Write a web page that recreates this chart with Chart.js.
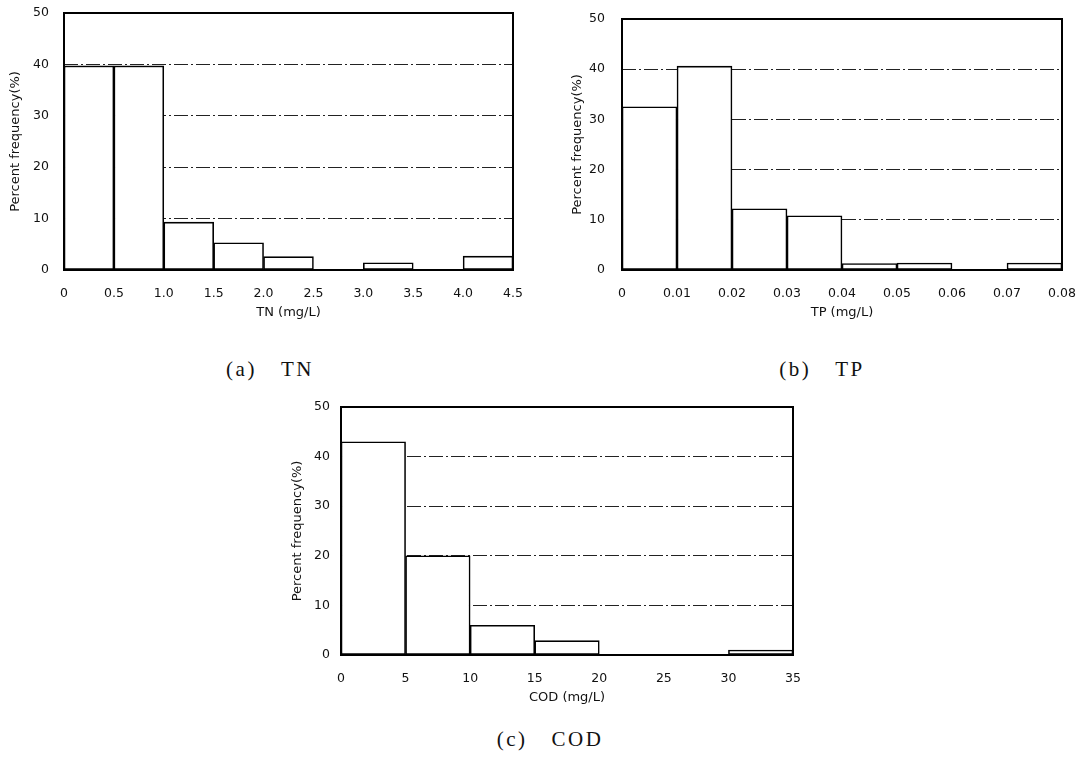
<!DOCTYPE html>
<html>
<head>
<meta charset="utf-8">
<script src="https://cdn.jsdelivr.net/npm/chart.js@4.4.1/dist/chart.umd.min.js"></script>
<style>
  html, body { margin: 0; padding: 0; background: #fff; }
  body { width: 1089px; height: 762px; position: relative; overflow: hidden; }
  .box { position: absolute; }
  .cap { position: absolute; font-family: "Liberation Serif", "Times New Roman", serif; font-size: 21px; line-height: 21px; color: #111; letter-spacing: 2.5px; white-space: nowrap; transform: translateX(-50%); }
  .cap .g { display: inline-block; width: 24px; }
</style>
</head>
<body>
<div class="box" style="left:0;top:0;width:530px;height:330px"><canvas id="cTN" width="530" height="330"></canvas></div>
<div class="box" style="left:545px;top:0;width:544px;height:330px"><canvas id="cTP" width="544" height="330"></canvas></div>
<div class="box" style="left:280px;top:395px;width:530px;height:320px"><canvas id="cCOD" width="530" height="320"></canvas></div>
<div class="cap" style="left:270px;top:359px">(a)<span class="g"></span>TN</div>
<div class="cap" style="left:822px;top:359px">(b)<span class="g"></span>TP</div>
<div class="cap" style="left:550px;top:729px">(c)<span class="g"></span>COD</div>
<script>
// ---- data (bin lower edges, bin width, percent frequency) ----
const tnBins   = [0, 0.5, 1.0, 1.5, 2.0, 2.5, 3.0, 3.5, 4.0];
const tnWidth  = 0.5;
const tnValues = [39.7, 39.7, 9.3, 5.3, 2.6, 0, 1.4, 0, 2.7];
const tnTicks  = [0, 0.5, 1.0, 1.5, 2.0, 2.5, 3.0, 3.5, 4.0, 4.5];

const tpBins   = [0, 0.01, 0.02, 0.03, 0.04, 0.05, 0.06, 0.07];
const tpWidth  = 0.01;
const tpValues = [32.5, 40.6, 12.2, 10.8, 1.3, 1.4, 0, 1.4];
const tpTicks  = [0, 0.01, 0.02, 0.03, 0.04, 0.05, 0.06, 0.07, 0.08];

const codBins   = [0, 5, 10, 15, 20, 25, 30];
const codWidth  = 5;
const codValues = [43.0, 20.0, 6.0, 2.9, 0, 0, 1.0];
const codTicks  = [0, 5, 10, 15, 20, 25, 30, 35];

const yTicks = [0, 10, 20, 30, 40, 50];

const FONT = '"DejaVu Sans", Verdana, sans-serif';
const CLEAR = 'rgba(0,0,0,0)';

const framePlugin = {
  id: 'frame',
  afterDatasetsDraw(chart) {
    const a = chart.chartArea, ctx = chart.ctx;
    ctx.save();
    ctx.strokeStyle = '#000';
    ctx.lineWidth = 2;
    ctx.strokeRect(a.left, a.top, a.right - a.left, a.bottom - a.top);
    ctx.restore();
  }
};

function makeHist(id, bins, width, values, ticks, xTitle, fmt, geo) {
  const data = bins.map((b, i) => ({ x: b + width / 2, y: values[i] }));
  new Chart(document.getElementById(id), {
    type: 'bar',
    data: {
      datasets: [{
        data: data,
        backgroundColor: '#fff',
        borderColor: '#000',
        borderWidth: 1.6,
        borderSkipped: false,
        barPercentage: 1,
        categoryPercentage: 1
      }]
    },
    options: {
      responsive: false,
      animation: false,
      devicePixelRatio: 1,
      layout: { padding: { top: geo.top, right: geo.right, left: 0, bottom: 0 } },
      plugins: { legend: { display: false }, tooltip: { enabled: false } },
      scales: {
        x: {
          type: 'linear',
          offset: false,
          min: ticks[0],
          max: ticks[ticks.length - 1],
          afterBuildTicks(s) { s.ticks = ticks.map(v => ({ value: v })); },
          afterFit(s) { s.height = 60; },
          grid: { display: true, drawOnChartArea: false, drawTicks: true, tickLength: 16, tickColor: CLEAR, color: CLEAR, offset: false },
          border: { display: false },
          ticks: {
            padding: 0,
            color: '#111',
            font: { family: FONT, size: 12.5 },
            maxRotation: 0,
            autoSkip: false,
            callback: v => fmt(v)
          },
          title: {
            display: true,
            text: xTitle,
            color: '#111',
            font: { family: FONT, size: 13 },
            padding: { top: 0, bottom: 10 }
          }
        },
        y: {
          type: 'linear',
          min: 0,
          max: 50,
          afterBuildTicks(s) { s.ticks = yTicks.map(v => ({ value: v })); },
          afterFit(s) { s.width = geo.yw; },
          grid: {
            drawTicks: true,
            tickLength: geo.tp,
            tickColor: CLEAR,
            color: ctx => (ctx.tick && (ctx.tick.value === 0 || ctx.tick.value === 50)) ? CLEAR : '#222',
            lineWidth: 1
          },
          border: { display: false, dash: [14, 3, 2, 3] },
          ticks: {
            padding: 0,
            color: '#111',
            font: { family: FONT, size: 12.5 },
            callback: v => String(v)
          },
          title: {
            display: true,
            text: 'Percent frequency(%)',
            color: '#111',
            font: { family: FONT, size: 13 },
            padding: { top: geo.tt, bottom: 0 }
          }
        }
      }
    },
    plugins: [framePlugin]
  });
}

const f1 = v => v === 0 ? '0' : v.toFixed(1);
const f2 = v => v === 0 ? '0' : v.toFixed(2);
const f0 = v => String(Math.round(v));

makeHist('cTN', tnBins, tnWidth, tnValues, tnTicks, 'TN (mg/L)', f1, { top: 13, right: 17, yw: 64, tp: 15, tt: 8 });
makeHist('cTP', tpBins, tpWidth, tpValues, tpTicks, 'TP (mg/L)', f2, { top: 19, right: 27, yw: 77, tp: 17, tt: 25 });
makeHist('cCOD', codBins, codWidth, codValues, codTicks, 'COD (mg/L)', f0, { top: 12, right: 17, yw: 61, tp: 11, tt: 10 });
</script>
</body>
</html>
